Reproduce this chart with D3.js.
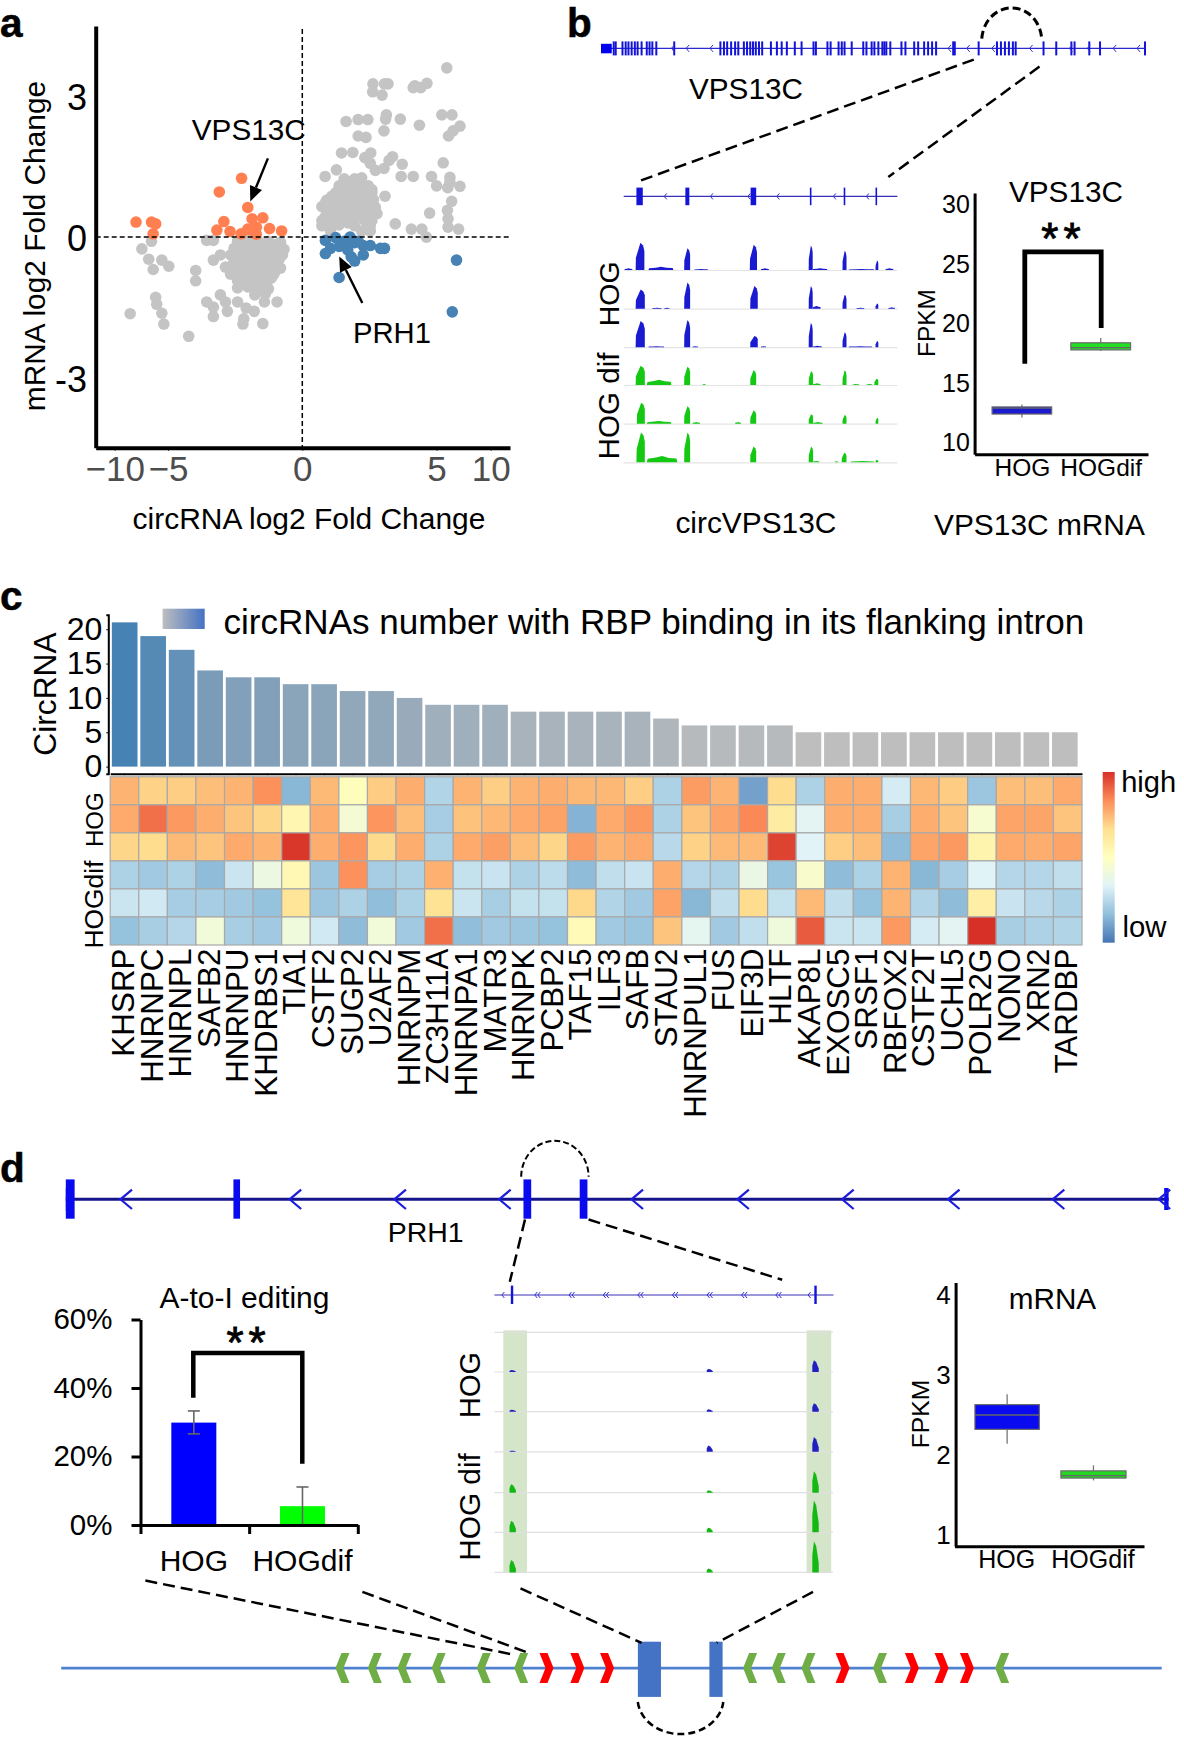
<!DOCTYPE html>
<html><head><meta charset="utf-8">
<script src="https://cdn.jsdelivr.net/npm/d3@7"></script>
<style>html,body{margin:0;background:#fff}svg{display:block}</style></head>
<body><svg id="fig" width="1184" height="1740"></svg>
<script>
// ---------- panel a data (circRNA log2FC, mRNA log2FC)
const scatterGrey=[[5.94,3.6],[2.63,3.26],[3.19,3.26],[3.06,3.26],[4.19,3.22],[4.64,3.27],[4.41,3.18],[4.13,3.18],[2.62,3.09],[2.97,3.02],[1.63,2.46],[2.08,2.5],[2.44,2.5],[3.13,2.6],[3.1,2.51],[3.65,2.51],[4.36,2.38],[5.48,2.6],[6.42,2.6],[7.16,2.36],[6.52,2.26],[6.1,2.15],[3.04,2.26],[2.08,2.15],[2.37,2.12],[1.46,1.79],[1.88,1.8],[2.55,1.79],[2.33,1.69],[3.36,1.71],[3.23,1.63],[5.61,1.58],[3.72,1.55],[2.53,1.57],[3.04,1.46],[2.72,1.42],[1.27,1.43],[3.68,1.29],[4.13,1.29],[4.81,1.29],[6.23,1.27],[0.85,1.29],[5,1.09],[6.03,1.05],[7.16,1.08],[6.23,1.16],[6.39,0.76],[6,0.57],[4.74,0.51],[6.06,0.39],[6.06,0.21],[7.03,0.17],[4.06,0.17],[4.45,0.17],[4.62,0],[3.46,0.28],[3.08,0.87],[2.59,1.01],[2.53,0.87],
[1.56,1.24],[1.95,1.24],[2.21,1.26],[1.37,1.09],[1.69,1.09],[2.08,1.11],[2.46,1.09],[1.24,0.94],[1.56,0.96],[1.88,0.94],[2.21,0.92],[2.59,0.94],[0.92,0.79],[1.24,0.81],[1.56,0.79],[1.95,0.77],[2.33,0.79],[2.65,0.79],[0.73,0.65],[1.05,0.67],[1.44,0.65],[1.76,0.63],[2.14,0.65],[2.46,0.65],[2.72,0.63],[0.92,0.5],[1.31,0.52],[1.63,0.5],[1.95,0.48],[2.33,0.5],[2.78,0.5],[0.73,0.35],[1.12,0.37],[1.5,0.35],[1.88,0.33],[2.33,0.35],[2.59,0.35],[0.73,0.24],[1.05,0.24],[1.37,0.26],[1.95,0.24],[2.53,0.24],[1.05,0.13],[2.21,0.13],[2.53,0.13],
[1.75,1.17],[2.05,1.17],[1.5,1.02],[1.85,1.02],[2.25,1.02],[1.1,0.87],[1.4,0.87],[1.75,0.87],[2.05,0.87],[2.4,0.87],[0.85,0.72],[1.2,0.72],[1.6,0.72],[1.9,0.72],[2.25,0.72],[2.55,0.72],[0.9,0.58],[1.25,0.58],[1.6,0.58],[1.95,0.58],[2.3,0.58],[2.6,0.58],[0.85,0.43],[1.2,0.43],[1.55,0.43],[1.75,0.43],[2.15,0.43],[2.45,0.43],[0.95,0.3],[1.3,0.3],[1.7,0.3],[2.45,0.3],
[-7.45,-0.25],[-6.55,-0.09],[-6.81,-0.47],[-6.39,-0.69],[-5.58,-0.49],[-4.97,-0.62],[-3.56,-0.07],[-3.31,-0.07],[-3.31,-0.49],[-3.05,-0.38],[-3.97,-0.71],[-3.97,-0.93],[-6.16,-1.28],[-6.06,-1.43],[-8.55,-1.63],[-5.58,-1.62],[-5.39,-1.85],[-4.23,-2.11],[-3.56,-1.38],[-3.31,-1.49],[-3.31,-1.69],[-3.05,-1.23],[-2.86,-1.38],[-2.79,-1.58],[-2.41,-1.38],[-2.09,-1.51],[-1.79,-1.58],[-2.18,-1.74],[-2.21,-1.85],[-1.47,-1.84],[-0.94,-1.38],[-1.41,-1.38],
[-2.41,-0.09],[-2.03,-0.07],[-1.64,-0.09],[-1.26,-0.09],[-0.81,-0.11],[-2.54,-0.24],[-2.15,-0.26],[-1.77,-0.24],[-1.38,-0.22],[-1,-0.24],[-0.68,-0.26],[-2.67,-0.38],[-2.28,-0.4],[-1.9,-0.38],[-1.51,-0.36],[-1.13,-0.38],[-0.74,-0.38],[-2.54,-0.53],[-2.15,-0.53],[-1.77,-0.55],[-1.38,-0.53],[-1,-0.51],[-2.86,-0.64],[-2.41,-0.64],[-2.03,-0.66],[-1.64,-0.64],[-1.19,-0.62],[-0.81,-0.66],[-2.67,-0.79],[-2.28,-0.77],[-1.9,-0.79],[-1.51,-0.81],[-1.06,-0.79],[-2.41,-0.93],[-2.03,-0.95],[-1.64,-0.93],[-1.26,-0.91],[-2.41,-1.08],[-2.03,-1.06],[-1.64,-1.08],[-1.26,-1.1],[-1.77,-1.23],[-1.38,-1.21],
[-2.2,-0.16],[-1.8,-0.16],[-1.4,-0.16],[-1.05,-0.16],[-2.4,-0.31],[-2,-0.31],[-1.6,-0.31],[-1.2,-0.31],[-0.85,-0.31],[-2.35,-0.46],[-1.95,-0.46],[-1.55,-0.46],[-1.2,-0.46],[-0.85,-0.46],[-2.6,-0.6],[-2.2,-0.6],[-1.85,-0.6],[-1.45,-0.6],[-1.05,-0.6],[-2.5,-0.72],[-2.15,-0.72],[-1.75,-0.72],[-1.35,-0.72],[-1,-0.72],[-2.2,-0.87],[-1.8,-0.87],[-1.4,-0.87],[-1.15,-0.87],[-2.2,-1],[-1.85,-1],[-1.45,-1]];
const scatterOrange=[[-2.26,1.25],[-3.09,0.96],[-2.03,0.63],[-8,0.32],[-6.55,0.32],[-6.16,0.28],[-6.39,0.07],[-2.92,0.33],[-3.18,0.15],[-2.69,0.12],[-2.28,0.07],[-1.87,0.39],[-1.47,0.41],[-1.71,0.21],[-1.9,0.15],[-1.22,0.18],[-0.77,0.13],[-1.71,0.06],[-2.03,0.17]];
const scatterBlue=[[0.86,-0.07],[1.24,-0.01],[1.78,0],[1.56,-0.09],[1.95,-0.12],[2.27,-0.18],[2.53,-0.18],[2.91,-0.24],[3.06,-0.24],[1.05,-0.24],[0.86,-0.35],[1.37,-0.2],[1.69,-0.27],[1.82,-0.42],[1.95,-0.51],[2.27,-0.38],[1.37,-0.86],[6.84,-0.49],[6.45,-1.59],[2.08,-0.09]];
const scatterXTicks=[-10,-5,0,5,10], scatterYTicks=[-3,0,3];
// ---------- panel b data
const vpsExons=[135,140,157,165,172,180,188,195,205,218,225,232,242,287,403,412,420,430,440,448,462,470,478,485,492,500,508,530,545,557,570,590,607,637,643,672,680,700,708,715,733,762,770,783,790,800,810,815,820,830,858,868,890,900,915,925,935,945,988,992,1052,1098,1108,1118,1128,1138,1145,1215,1247,1285,1293,1330,1357,1470];
const vpsArrows=[280,317,377,975,1022,1085,1180,1280,1325,1390,1450];
const circExons=[[192,208],[315,325],[479,493],[628,632],[713,717],[793,797]];
const circArrows=[262,378,472,545,687,770];
const circCovHOG=[
 [[162,182,5],[190,212,78],[222,285,9],[312,327,62],[337,372,3],[477,495,72],[505,525,5],[625,635,70],[635,672,5],[710,720,55],[725,790,3],[793,800,27],[818,838,5]],
 [[190,213,55],[232,255,3],[262,275,3],[312,327,75],[478,497,65],[625,635,65],[635,655,8],[710,720,40],[745,765,3],[793,800,15],[825,842,4]],
 [[190,213,75],[222,262,3],[312,327,78],[333,347,3],[478,497,32],[505,518,3],[625,635,70],[635,658,4],[710,720,43],[725,785,3],[793,800,18]]];
const circCovDif=[
 [[190,213,55],[218,280,15],[312,327,52],[358,366,3],[478,493,42],[625,636,40],[636,655,5],[710,720,42],[735,752,3],[770,785,3],[790,800,18]],
 [[193,213,60],[218,280,8],[312,327,50],[333,352,5],[440,455,5],[478,493,38],[625,636,27],[636,660,5],[710,720,25],[793,800,17]],
 [[192,213,85],[218,295,18],[312,327,85],[478,493,45],[625,636,45],[636,652,4],[690,700,3],[708,720,27],[730,790,4],[793,800,8]]];
const groups=["HOG","HOGdif"];
const vpsBoxHOG={lo:12.1,q1:12.4,med:12.9,q3:13.0,hi:13.2}, vpsBoxDif={lo:17.7,q1:17.8,med:18.0,q3:18.4,hi:18.8};
const fpkmTicksB=[10,15,20,25,30];
// ---------- panel c data
const rbpNames=["KHSRP","HNRNPC","HNRNPL","SAFB2","HNRNPU","KHDRBS1","TIA1","CSTF2","SUGP2","U2AF2","HNRNPM","ZC3H11A","HNRNPA1","MATR3","HNRNPK","PCBP2","TAF15","ILF3","SAFB","STAU2","HNRNPUL1","FUS","EIF3D","HLTF","AKAP8L","EXOSC5","SRSF1","RBFOX2","CSTF2T","UCHL5","POLR2G","NONO","XRN2","TARDBP"];
const rbpCounts=[21,19,17,14,13,13,12,12,11,11,10,9,9,9,8,8,8,8,8,7,6,6,6,6,5,5,5,5,5,5,5,5,5,5];
const heatColumns=[[.55,.6,.38,-.55,-.42,-.65],[.4,.82,.35,-.6,-.4,-.57],[.42,.68,.52,-.55,-.58,-.52],[.5,.58,.47,-.68,-.58,-.15],[.55,.47,.6,-.42,-.6,-.57],[.72,.38,.55,-.2,-.65,-.6],[-.7,.1,.98,.08,.28,-.17],[.52,.58,.58,-.62,-.62,-.4],[.02,-.12,.7,.72,-.55,-.68],[.43,.7,.36,-.58,-.67,-.15],[.58,.5,.58,-.55,-.55,-.6],[-.53,-.58,-.55,.57,.3,.82],[.55,.48,.6,-.45,-.42,-.67],[.42,.53,.65,-.43,-.57,-.6],[.55,.6,.5,-.55,-.45,-.62],[.58,.63,.38,-.48,-.45,-.65],[.53,-.72,.67,-.68,.37,.05],[.53,.6,.55,-.47,-.53,-.6],[.42,.68,.6,-.43,-.6,-.63],[-.55,-.55,-.5,.58,.63,.47],[.67,.47,.4,-.52,-.7,-.28],[.55,.62,.52,-.55,-.47,-.6],[-.8,.75,.52,-.22,.35,-.47],[.35,.2,.95,-.63,-.45,-.17],[-.55,-.3,-.32,-.08,.52,.88],[.58,.58,.42,-.68,-.47,-.42],[.58,.58,.5,-.55,-.65,-.42],[-.38,-.57,-.68,.55,.55,.68],[.53,.58,.62,-.7,-.53,-.38],[.43,.47,.68,-.58,-.68,-.3],[-.62,-.1,.12,-.33,.18,1],[.5,.62,.6,-.52,-.43,-.57],[.5,.62,.58,-.52,-.5,-.55],[.6,.47,.62,-.47,-.55,-.53]];
const heatStops=[-1,-2/3,-1/3,0,1/3,.74,1], heatColors=["#4575B4","#91BFDB","#E0F3F8","#FFFFBF","#FEE090","#FC8D59","#D73027"];
const countTicks=[0,5,10,15,20];
// ---------- panel d data
const prhExons=[[0,0.8],[15.2,15.8],[41.5,42.2],[46.6,47.3],[99.6,100]];
const prhArrows=[4.96,20.3,29.8,39.3,51.3,60.9,70.4,80,89.5,99.1];
const zoomExons=[5.2,94.7];
const zoomArrowsDouble=[11.9,22,32.1,42.3,52.5,62.7,72.9,83], zoomArrowsSingle=[2.2,92.5];
const zoomPeakPos=[5.4,63.5,94.7];
const zoomPeaksHOG=[[5,8,30],[5,6,22],[3,16,38]], zoomPeaksDif=[[22,6,55],[30,12,82],[32,10,80]];
const editingValues=[29.9,5.5], editingErr=[[26.6,33.3],[0,11.1]], editingTicks=[0,20,40,60];
const prhBoxHOG={lo:2.14,q1:2.32,med:2.5,q3:2.63,hi:2.76}, prhBoxDif={lo:1.68,q1:1.71,med:1.74,q3:1.8,hi:1.87};
const fpkmTicksD=[1,2,3,4];
const diagramGreen=[25.56,28.5,31.2,34.3,38.4,41.8,62.6,65.2,67.9,74.4,85.5];
const diagramRed=[44.1,46.9,49.6,71,77.3,80,82.3];
const diagramExons=[[52.4,54.5],[58.9,60.1]];

// ---------- helpers
const FONT='"Liberation Sans",Arial,sans-serif';
const svg=d3.select("#fig").attr("font-family",FONT);
function txt(str,x,y,o={}){
  const t=svg.append("text").text(str).attr("fill",o.fill||"#000").attr("font-weight",o.weight||"normal")
    .attr("text-anchor",o.anchor||"start").attr("font-size",o.size||20);
  if(o.spacing) t.attr("letter-spacing",o.spacing);
  t.attr("transform",`translate(${x},${y})`+(o.rot?` rotate(${o.rot})`:""));
  if(o.len){const m=t.node().getComputedTextLength();t.attr("font-size",20*o.len/m);}
  return t;
}
function dashed(x0,y0,x1,y1,w=2.5,dash="12,6"){
  svg.append("line").attr("x1",x0).attr("y1",y0).attr("x2",x1).attr("y2",y1).attr("stroke","#000").attr("stroke-width",w).attr("stroke-dasharray",dash);
}
function dashArc(x0,y0,x1,y1,rx,ry,sweep,w,dash){
  svg.append("path").attr("d",`M${x0} ${y0}A${rx} ${ry} 0 0 ${sweep} ${x1} ${y1}`).attr("fill","none").attr("stroke","#000").attr("stroke-width",w).attr("stroke-dasharray",dash);
}
function styleAxis(g,o){
  g.attr("font-family",FONT);
  g.selectAll("text").attr("font-size",o.size).attr("fill",o.fill||"#000");
  g.select(".domain").attr("stroke","#000").attr("stroke-width",o.w);
  g.selectAll(".tick line").attr("stroke",o.tickColor||"#000").attr("stroke-width",o.tw||1);
}
function chevrons(pos,y,l,h,color,w){
  svg.append("g").selectAll("path").data(pos).join("path")
    .attr("d",d=>`M${d+l} ${y-h}L${d} ${y}L${d+l} ${y+h}`).attr("fill","none").attr("stroke",color).attr("stroke-width",w);
}
function boxplot(x,y,group,s,fill,bw){
  const c=x(group),g=svg.append("g");
  g.append("line").attr("x1",c).attr("x2",c).attr("y1",y(s.lo)).attr("y2",y(s.hi)).attr("stroke","#777").attr("stroke-width",1.3);
  g.append("rect").attr("x",c-bw/2).attr("width",bw).attr("y",y(s.q3)).attr("height",y(s.q1)-y(s.q3)).attr("fill",fill).attr("stroke","#6a6a6a").attr("stroke-width",1.2);
  g.append("line").attr("x1",c-bw/2).attr("x2",c+bw/2).attr("y1",y(s.med)).attr("y2",y(s.med)).attr("stroke","#666").attr("stroke-width",1.3);
}
function bracket(x0,y0,yTop,x1,y1,w){
  svg.append("path").attr("d",d3.line()([[x0,y0],[x0,yTop],[x1,yTop],[x1,y1]])).attr("fill","none").attr("stroke","#000").attr("stroke-width",w).attr("stroke-linejoin","miter");
}
function stars(cx,cy){ txt("**",cx,cy+22,{anchor:"middle",size:44,spacing:5}).attr("stroke","#000").attr("stroke-width",.9); }

// ---------- panel letters
[["a",0,37],["b",567,37],["c",0,610],["d",0,1182]].forEach(d=>txt(d[0],d[1],d[2],{size:40.5,weight:"bold"}).attr("stroke","#000").attr("stroke-width",.5));

// ========== PANEL A
const xA=d3.scaleLinear().domain([-11.8,-10,-5,0,5,10,11.8]).range([95.7,114.7,168,302.3,436.6,490.7,510]);
const yA=d3.scaleLinear().domain([-4.48,4.49]).range([447.7,26]);
const dots=(arr,c)=>svg.append("g").selectAll("circle").data(arr).join("circle").attr("cx",d=>xA(d[0])).attr("cy",d=>yA(d[1])).attr("r",5.8).attr("fill",c);
dots(scatterGrey,"#c4c4c4");dots(scatterOrange,"#ff7f50");dots(scatterBlue,"#4682b4");
dashed(xA(0),29,xA(0),447,1.5,"5,3");dashed(95.7,yA(0),510,yA(0),1.5,"5,3");
const axA=svg.append("g").attr("transform","translate(0,447.7)").call(d3.axisBottom(xA).tickValues(scatterXTicks).tickSize(3).tickPadding(5).tickSizeOuter(0));
styleAxis(axA,{size:35,w:4,fill:"#4d4d4d"});
const ayA=svg.append("g").attr("transform","translate(95.7,0)").call(d3.axisLeft(yA).tickValues(scatterYTicks).tickSize(0).tickPadding(8.7).tickFormat(String));
styleAxis(ayA,{size:36,w:4});
ayA.selectAll("text").attr("y",2);
txt("mRNA log2 Fold Change",44.8,246,{anchor:"middle",rot:-90,len:330.5});
txt("circRNA log2 Fold Change",132.6,528.6,{len:353});
txt("VPS13C",191.8,139.5,{len:114});
txt("PRH1",353,342.6,{len:78});
function arrow(x0,y0,x1,y1){
  const a=Math.atan2(y1-y0,x1-x0),L=15,H=6.5;
  const bx=x1-L*Math.cos(a),by=y1-L*Math.sin(a);
  svg.append("line").attr("x1",x0).attr("y1",y0).attr("x2",bx).attr("y2",by).attr("stroke","#000").attr("stroke-width",2.4);
  svg.append("path").attr("d",`M${x1} ${y1}L${bx-H*Math.sin(a)} ${by+H*Math.cos(a)}L${bx+H*Math.sin(a)} ${by-H*Math.cos(a)}Z`).attr("fill","#000");
}
arrow(267.9,158.4,250.3,201.4);arrow(362.3,303,339.2,256.5);

// ========== PANEL B
const xV=d3.scaleLinear().domain([103,1472]).range([601,1145.8]);
const BLUE="#1414d8";
svg.append("line").attr("x1",xV(103)).attr("x2",xV(1472)).attr("y1",48.4).attr("y2",48.4).attr("stroke","#2a2ad0").attr("stroke-width",1.2);
svg.append("rect").attr("x",xV(103)).attr("width",xV(130)-xV(103)).attr("y",43.8).attr("height",9.5).attr("fill","#0000f0");
svg.append("g").selectAll("rect").data(vpsExons).join("rect").attr("x",d=>xV(d)-1).attr("width",2).attr("y",41.4).attr("height",14).attr("fill",BLUE);
chevrons(vpsArrows.map(xV),48.4,3,3.5,"#3030d0",1);
dashArc(981.8,38.6,1041.5,36.8,30,33,1,3,"8,4");
dashed(973.8,59.6,635.6,182.4);dashed(1039.5,66.6,888.3,177);
txt("VPS13C",689,98.9,{len:114});
const xC=d3.scaleLinear().domain([160,848]).range([623.7,897.4]);
svg.append("line").attr("x1",xC(160)).attr("x2",xC(848)).attr("y1",196.4).attr("y2",196.4).attr("stroke","#3a30b8").attr("stroke-width",1.2);
svg.append("g").selectAll("rect").data(circExons).join("rect").attr("x",d=>xC(d[0])).attr("width",d=>xC(d[1])-xC(d[0])).attr("y",187.6).attr("height",17.6).attr("fill",BLUE);
chevrons(circArrows.map(xC),196.4,2.5,3,"#3030d0",1);
const hCov=d3.scaleLinear().domain([0,100]).range([0,35]);
function covRow(peaks,baseY,color){
  svg.append("line").attr("x1",623.7).attr("x2",897.4).attr("y1",baseY+.5).attr("y2",baseY+.5).attr("stroke","#e4e4e4").attr("stroke-width",1.2);
  const area=d3.area().x(d=>xC(d[0])).y0(baseY).y1(d=>baseY-hCov(d[1]));
  svg.append("g").selectAll("path").data(peaks).join("path").attr("fill",color).attr("d",p=>{
    const [a,b,h]=p,w=b-a;
    const pts=(h>=15&&w<30)?[[a,0],[a+.03*w,.45*h],[a+.55*w,h],[a+.85*w,.9*h],[b,.7*h],[b,0]]
      :[[a,0],[a+.03*w,.55*h],[a+.3*w,.75*h],[a+.5*w,h],[a+.72*w,.7*h],[b-.03*w,.6*h],[b,0]];
    return area(pts);
  });
}
circCovHOG.forEach((r,i)=>covRow(r,[270,308.7,347.2][i],"#1a1ad0"));
circCovDif.forEach((r,i)=>covRow(r,[385,423.7,462.3][i],"#14c814"));
txt("HOG",618.9,293.8,{anchor:"middle",rot:-90,len:65});
txt("HOG dif",618.9,406,{anchor:"middle",rot:-90,len:107});
txt("circVPS13C",675.4,533,{len:161});
txt("VPS13C mRNA",934,535,{len:211});
const xB=d3.scalePoint().domain(groups).range([974.6,1148]).padding(.6);
const yB=d3.scaleLinear().domain([9.02,31.01]).range([454.2,193]);
boxplot(xB,yB,"HOG",vpsBoxHOG,"#1a1ad0",59.6);boxplot(xB,yB,"HOGdif",vpsBoxDif,"#22e022",59.7);
styleAxis(svg.append("g").attr("transform","translate(0,454.2)").call(d3.axisBottom(xB).tickSize(2).tickSizeOuter(0).tickPadding(2)),{size:24.5,w:3});
styleAxis(svg.append("g").attr("transform","translate(974.6,0)").call(d3.axisLeft(yB).tickValues(fpkmTicksB).tickSize(0).tickPadding(4.7)),{size:25,w:3});
txt("FPKM",935,323,{anchor:"middle",rot:-90,len:68});
txt("VPS13C",1009,201.7,{len:114});
bracket(1024.8,363.7,251.8,1101.2,328,4.8);
stars(1063.4,231.5);

// ========== PANEL C
const xBar=d3.scaleBand().domain(rbpNames).range([109,1080.5]).padding(.1);
const xHeat=d3.scaleBand().domain(rbpNames).range([110.2,1082]);
const yCount=d3.scaleLinear().domain([-1.03,22.1]).range([773.7,614.8]);
const barColor=d3.scaleLinear().domain([5,21]).range(["#bebebe","#4682b4"]);
svg.append("g").selectAll("rect").data(rbpNames).join("rect").attr("x",d=>xBar(d)).attr("width",xBar.bandwidth())
  .attr("y",(d,i)=>yCount(rbpCounts[i])).attr("height",(d,i)=>yCount(0)-yCount(rbpCounts[i])).attr("fill",(d,i)=>barColor(rbpCounts[i]));
styleAxis(svg.append("g").attr("transform","translate(0,773.7)").call(d3.axisBottom(xHeat).tickSize(1.5).tickSizeOuter(0).tickFormat("")),{size:1,w:2});
styleAxis(svg.append("g").attr("transform","translate(108.3,0)").call(d3.axisLeft(yCount).tickValues(countTicks).tickSize(2).tickPadding(4)),{size:32,w:2});
txt("CircRNA",55.5,694,{anchor:"middle",rot:-90,len:123.4});
const defs=svg.append("defs");
const lg=defs.append("linearGradient").attr("id","barLegend");
lg.append("stop").attr("offset",0).attr("stop-color","#bebebe");lg.append("stop").attr("offset",1).attr("stop-color","#4472c4");
svg.append("rect").attr("x",162.6).attr("y",608.7).attr("width",42.1).attr("height",20.3).attr("fill","url(#barLegend)");
txt("circRNAs number with RBP binding in its flanking intron",223.5,634,{len:861});
const heatColor=d3.scaleLinear().domain(heatStops).range(heatColors);
const rowsH=d3.range(6), yHeat=d3.scaleBand().domain(rowsH).range([776.8,945]);
rbpNames.forEach((n,c)=>{
  svg.append("g").selectAll("rect").data(heatColumns[c]).join("rect").attr("x",xHeat(n)).attr("y",(d,r)=>yHeat(r))
    .attr("width",xHeat.bandwidth()).attr("height",yHeat.bandwidth()).attr("fill",d=>heatColor(d)).attr("stroke","#a9a9a9").attr("stroke-width",1.2);
});
const axRbp=svg.append("g").attr("transform","translate(0,948.5)").call(d3.axisBottom(xHeat).tickSize(0));
axRbp.select(".domain").remove();
axRbp.attr("font-family",FONT);
axRbp.selectAll("text").attr("font-size",31.4).attr("fill","#000").attr("text-anchor","end").attr("x",0).attr("y",0).attr("dy",0).attr("transform","translate(9.5,0) rotate(-90)");
txt("HOG",102.6,819.7,{anchor:"middle",rot:-90,len:54.8});
txt("HOGdif",102.6,904.5,{anchor:"middle",rot:-90,len:88});
const hg=defs.append("linearGradient").attr("id","heatLegend").attr("x1",0).attr("x2",0).attr("y1",1).attr("y2",0);
heatColors.forEach((c,i)=>hg.append("stop").attr("offset",i/6).attr("stop-color",c));
svg.append("rect").attr("x",1102.7).attr("y",772).attr("width",12).attr("height",170.7).attr("fill","url(#heatLegend)");
txt("high",1121.2,792,{len:55});
txt("low",1122.4,936.7,{len:44});

// ========== PANEL D
const xP=d3.scaleLinear().domain([0,100]).range([65.8,1168.6]);
svg.append("line").attr("x1",xP(0)).attr("x2",xP(100)).attr("y1",1199.3).attr("y2",1199.3).attr("stroke","#14148c").attr("stroke-width",3);
svg.append("g").selectAll("rect").data(prhExons).join("rect").attr("x",d=>xP(d[0])).attr("width",d=>xP(d[1])-xP(d[0])).attr("y",(d,i)=>i==4?1188:1179.4).attr("height",(d,i)=>i==4?22:39.3).attr("fill","#0a0af0");
svg.append("rect").attr("x",xP(0)).attr("width",3).attr("y",1188).attr("height",23).attr("fill","#0a0af0");
chevrons(prhArrows.map(xP),1199.3,11.5,9.7,"#1c1ce0",2.2);
dashArc(521.2,1176.7,588.6,1176.7,33.7,36,1,2,"6,3");
txt("PRH1",387.7,1242,{len:76});
dashed(525,1219.5,509.8,1281.8);dashed(588.6,1219.5,782.2,1279.8);
const xZ=d3.scaleLinear().domain([0,100]).range([494.4,833.5]);
svg.append("line").attr("x1",xZ(0)).attr("x2",xZ(100)).attr("y1",1295).attr("y2",1295).attr("stroke","#3a30b8").attr("stroke-width",1.1);
svg.append("g").selectAll("rect").data(zoomExons).join("rect").attr("x",d=>xZ(d)-1.2).attr("width",2.4).attr("y",1285.6).attr("height",18.4).attr("fill",BLUE);
chevrons(zoomArrowsDouble.map(xZ),1295,2.5,3,"#3030d0",1);
chevrons(zoomArrowsDouble.map(d=>xZ(d)+3),1295,2.5,3,"#3030d0",1);
chevrons(zoomArrowsSingle.map(xZ),1295,2.5,3,"#3030d0",1);
svg.append("rect").attr("x",503.3).attr("width",23.7).attr("y",1330.4).attr("height",242.4).attr("fill","#d4e5c9");
svg.append("rect").attr("x",806.5).attr("width",24.7).attr("y",1330.4).attr("height",242.4).attr("fill","#d4e5c9");
const hZoom=d3.scaleLinear().domain([0,100]).range([0,38.9]);
[1332.3,1372,1411.7,1451.8,1492.7,1532.3,1572.4].forEach(y=>svg.append("line").attr("x1",494.4).attr("x2",833).attr("y1",y).attr("y2",y).attr("stroke","#e0e0e0").attr("stroke-width",1.2));
function zoomRow(h,baseY,color){
  const area=d3.area().x(d=>d[0]).y0(baseY).y1(d=>baseY-hZoom(d[1]));
  svg.append("g").selectAll("path").data(zoomPeakPos).join("path").attr("fill",color).attr("d",(p,i)=>{
    const c=xZ(p),v=h[i],w=i==1?3:3.2;
    return area([[c-w,0],[c-w,v*.55],[c-w*.5,v],[c+w*.2,v*.85],[c+w,v*.3],[c+w,0]]);
  });
}
zoomPeaksHOG.forEach((h,i)=>zoomRow(h,[1372,1411.7,1451.8][i],"#2020c0"));
zoomPeaksDif.forEach((h,i)=>zoomRow(h,[1492.7,1532.3,1572.4][i],"#14b814"));
txt("HOG",480.3,1385,{anchor:"middle",rot:-90,len:66});
txt("HOG dif",480.3,1507,{anchor:"middle",rot:-90,len:107.7});
// editing bars
const xE=d3.scaleBand().domain(groups).range([140.5,357.8]);
const xEdge=d3.scaleLinear().domain([0,2]).range([140.5,357.8]);
const yE=d3.scaleLinear().domain([0,60]).range([1525,1319.5]);
const barW=45;
svg.append("g").selectAll("rect").data(groups).join("rect").attr("x",d=>xE(d)+xE.bandwidth()/2-barW/2-1).attr("width",barW)
  .attr("y",(d,i)=>yE(editingValues[i])).attr("height",(d,i)=>yE(0)-yE(editingValues[i])).attr("fill",(d,i)=>i?"#00ff00":"#0000ff");
groups.forEach((g,i)=>{
  const c=xE(g)+xE.bandwidth()/2-1,[lo,hi]=editingErr[i];
  svg.append("line").attr("x1",c).attr("x2",c).attr("y1",yE(lo)).attr("y2",yE(hi)).attr("stroke","#666").attr("stroke-width",1.6);
  [lo,hi].filter(v=>v>0).forEach(v=>svg.append("line").attr("x1",c-6).attr("x2",c+6).attr("y1",yE(v)).attr("y2",yE(v)).attr("stroke","#666").attr("stroke-width",1.6));
});
const axE=svg.append("g").attr("transform","translate(0,1525)").call(d3.axisBottom(xEdge).tickValues([0,1,2]).tickSize(9).tickSizeOuter(0).tickFormat(""));
styleAxis(axE,{size:1,w:3,tw:3});
const axEL=svg.append("g").attr("transform","translate(-1,1525)").call(d3.axisBottom(xE).tickSize(0).tickPadding(25));
axEL.select(".domain").remove();
styleAxis(axEL,{size:30,w:0});
styleAxis(svg.append("g").attr("transform","translate(140.5,0)").call(d3.axisLeft(yE).tickValues(editingTicks).tickSize(9).tickPadding(19).tickSizeOuter(0).tickFormat(d=>d+"%")),{size:29.5,w:3,tw:3});
txt("A-to-I editing",159.5,1308.2,{len:170});
bracket(193.3,1397.7,1353,302.3,1463.8,4.5);
stars(248.5,1336.4);
// mRNA box
const xM=d3.scalePoint().domain(groups).range([955.6,1145]).padding(.597);
const yM=d3.scaleLinear().domain([0.855,4.16]).range([1546.3,1282.5]);
boxplot(xM,yM,"HOG",prhBoxHOG,"#0a0af0",64.4);boxplot(xM,yM,"HOGdif",prhBoxDif,"#22d822",65.1);
styleAxis(svg.append("g").attr("transform","translate(-1,1546.3)").call(d3.axisBottom(xM).tickSize(1).tickSizeOuter(0).tickPadding(3)),{size:25,w:3});
styleAxis(svg.append("g").attr("transform","translate(955.6,0)").call(d3.axisLeft(yM).tickValues(fpkmTicksD).tickFormat(String).tickSize(0).tickPadding(5)),{size:26,w:3});
txt("FPKM",928.6,1414,{anchor:"middle",rot:-90,len:68.5});
txt("mRNA",1008.7,1309,{len:87.5});
// bottom diagram
const xD=d3.scaleLinear().domain([0,100]).range([61.2,1161.7]);
const yDiag=1668.1;
svg.append("line").attr("x1",xD(0)).attr("x2",xD(100)).attr("y1",yDiag).attr("y2",yDiag).attr("stroke","#4f81cf").attr("stroke-width",2.6);
const chev=s=>d3.line()([[-7*s,0],[-1*s,-15],[7*s,-15],[1*s,0],[7*s,15],[-1*s,15]])+"Z";
svg.append("g").selectAll("path").data(diagramGreen).join("path").attr("d",chev(1)).attr("transform",d=>`translate(${xD(d)},${yDiag})`).attr("fill","#70ad47");
svg.append("g").selectAll("path").data(diagramRed).join("path").attr("d",chev(-1)).attr("transform",d=>`translate(${xD(d)},${yDiag})`).attr("fill","#ff0000");
svg.append("g").selectAll("rect").data(diagramExons).join("rect").attr("x",d=>xD(d[0])).attr("width",d=>xD(d[1])-xD(d[0])).attr("y",1641.7).attr("height",55.2).attr("fill","#4472c4");
dashArc(637.8,1702,723.3,1702,43,36,0,2.5,"7,4");
dashed(145.4,1580.6,512.8,1654.5);dashed(362.4,1591.9,530,1653.4);
dashed(520.5,1588.4,641.6,1642.8);dashed(813,1591.9,716.8,1642.8);
</script></body></html>
